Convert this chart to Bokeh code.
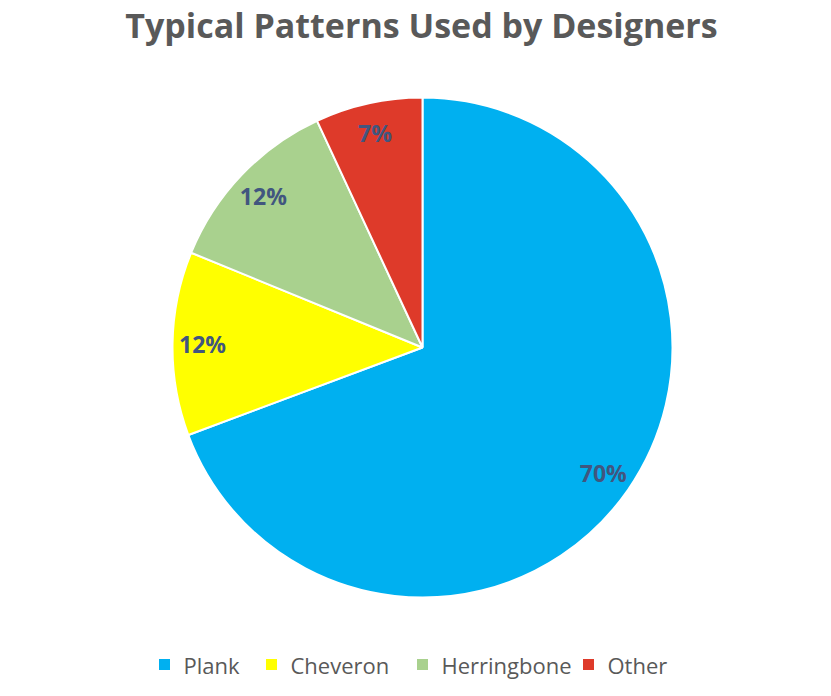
import numpy as np
from bokeh.plotting import figure
from bokeh.models import ColumnDataSource, Range1d
from bokeh.core.properties import value
from bokeh.embed import file_html
from bokeh.resources import INLINE

# chart data
patterns = ["Plank", "Cheveron", "Herringbone", "Other"]
shares = [70, 12, 12, 7]
colors = ["#00B0F0", "#FFFF00", "#A9D18E", "#DE3A2A"]
title = "Typical Patterns Used by Designers"

W, H = 815, 680
CX, CY, R = 422, H - 347, 250
FONT = "Open Sans"

p = figure(width=W, height=H, output_backend="svg", toolbar_location=None,
           x_range=Range1d(0, W), y_range=Range1d(0, H),
           x_axis_location=None, y_axis_location=None, min_border=0)
p.grid.visible = False
p.outline_line_color = None

# slices go clockwise from 12 o'clock
vals = np.array(shares, dtype=float)
frac = vals / vals.sum()
cum = np.concatenate([[0], np.cumsum(frac)])
start = np.pi / 2 - 2 * np.pi * cum[1:]
end = np.pi / 2 - 2 * np.pi * cum[:-1]
mid = (start + end) / 2

src = ColumnDataSource(data=dict(
    name=patterns, start=start, end=end, color=colors,
    lx=CX + 0.88 * R * np.cos(mid), ly=CY + 0.88 * R * np.sin(mid),
    label=[f"{v}%" for v in shares],
))
p.wedge(x=CX, y=CY, radius=R, start_angle="start", end_angle="end",
        fill_color="color", line_color="white", line_width=2, source=src)
p.text(x="lx", y="ly", text="label", source=src, text_align="center",
       text_baseline="middle", text_font=value(FONT), text_font_style="bold",
       text_font_size="23px", text_color="#41567F")

# title
p.text(x=[CX - 1], y=[H - 24], text=[title], text_align="center",
       text_baseline="middle", text_font=value(FONT), text_font_style="bold",
       text_font_size="34px", text_color="#595959")

# legend along the bottom
leg_x = [164, 271, 422, 588]
leg = ColumnDataSource(data=dict(x=leg_x, tx=[x + 19 for x in leg_x],
                                 y=[H - 664] * 4, name=patterns, color=colors))
p.scatter(x="x", y="y", marker="square", size=11, fill_color="color",
          line_color=None, source=leg)
p.text(x="tx", y="y", text="name", source=leg, text_baseline="middle",
       text_font=value(FONT), text_font_size="22px", text_color="#595959")

open("out.html", "w").write(file_html(p, INLINE))
